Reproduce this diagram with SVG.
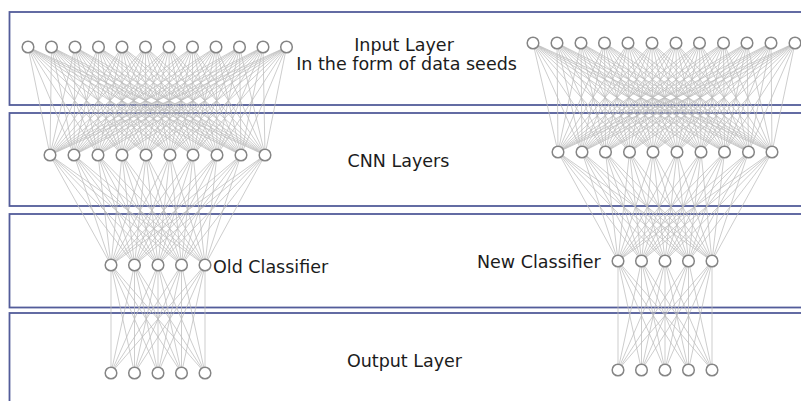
<svg xmlns="http://www.w3.org/2000/svg" width="801" height="401" viewBox="0 0 801 401">
<style>
.band{fill:#fff;stroke:#535c9a;stroke-width:1.8}
.edge{fill:none;stroke:#bcbcbc;stroke-width:0.75;stroke-linejoin:round}
.node{fill:#fff;stroke:#858585;stroke-width:1.5}
.lbl{font-family:"DejaVu Sans","Liberation Sans",sans-serif;font-size:17.5px;fill:#1c1c1c}
</style>
<rect width="801" height="401" fill="#fff"/>
<g id="bands">
<rect class="band" x="9.5" y="12" width="800" height="93"/>
<rect class="band" x="9.5" y="113" width="800" height="93"/>
<rect class="band" x="9.5" y="214" width="800" height="93.5"/>
<rect class="band" x="9.5" y="313" width="800" height="100"/>
</g>
<g id="connectors">
<path class="edge" d="M50 155L28 47L74 155M98 155L28 47L122 155M146 155L28 47L170 155M193 155L28 47L217 155M241 155L28 47L265 155
M50 155L51.5 47L74 155M98 155L51.5 47L122 155M146 155L51.5 47L170 155M193 155L51.5 47L217 155M241 155L51.5 47L265 155
M50 155L75 47L74 155M98 155L75 47L122 155M146 155L75 47L170 155M193 155L75 47L217 155M241 155L75 47L265 155
M50 155L98.5 47L74 155M98 155L98.5 47L122 155M146 155L98.5 47L170 155M193 155L98.5 47L217 155M241 155L98.5 47L265 155
M50 155L122 47L74 155M98 155L122 47L122 155M146 155L122 47L170 155M193 155L122 47L217 155M241 155L122 47L265 155
M50 155L145.5 47L74 155M98 155L145.5 47L122 155M146 155L145.5 47L170 155M193 155L145.5 47L217 155M241 155L145.5 47L265 155
M50 155L169 47L74 155M98 155L169 47L122 155M146 155L169 47L170 155M193 155L169 47L217 155M241 155L169 47L265 155
M50 155L192.5 47L74 155M98 155L192.5 47L122 155M146 155L192.5 47L170 155M193 155L192.5 47L217 155M241 155L192.5 47L265 155
M50 155L216 47L74 155M98 155L216 47L122 155M146 155L216 47L170 155M193 155L216 47L217 155M241 155L216 47L265 155
M50 155L239.5 47L74 155M98 155L239.5 47L122 155M146 155L239.5 47L170 155M193 155L239.5 47L217 155M241 155L239.5 47L265 155
M50 155L263 47L74 155M98 155L263 47L122 155M146 155L263 47L170 155M193 155L263 47L217 155M241 155L263 47L265 155
M50 155L286.5 47L74 155M98 155L286.5 47L122 155M146 155L286.5 47L170 155M193 155L286.5 47L217 155M241 155L286.5 47L265 155"/>
<path class="edge" d="M111 265L50 155L134.5 265M158 265L50 155L181.5 265M205 265L50 155
M111 265L74 155L134.5 265M158 265L74 155L181.5 265M205 265L74 155
M111 265L98 155L134.5 265M158 265L98 155L181.5 265M205 265L98 155
M111 265L122 155L134.5 265M158 265L122 155L181.5 265M205 265L122 155
M111 265L146 155L134.5 265M158 265L146 155L181.5 265M205 265L146 155
M111 265L170 155L134.5 265M158 265L170 155L181.5 265M205 265L170 155
M111 265L193 155L134.5 265M158 265L193 155L181.5 265M205 265L193 155
M111 265L217 155L134.5 265M158 265L217 155L181.5 265M205 265L217 155
M111 265L241 155L134.5 265M158 265L241 155L181.5 265M205 265L241 155
M111 265L265 155L134.5 265M158 265L265 155L181.5 265M205 265L265 155"/>
<path class="edge" d="M111 373L111 265L134.5 373M158 373L111 265L181.5 373M205 373L111 265
M111 373L134.5 265L134.5 373M158 373L134.5 265L181.5 373M205 373L134.5 265
M111 373L158 265L134.5 373M158 373L158 265L181.5 373M205 373L158 265
M111 373L181.5 265L134.5 373M158 373L181.5 265L181.5 373M205 373L181.5 265
M111 373L205 265L134.5 373M158 373L205 265L181.5 373M205 373L205 265"/>
<path class="edge" d="M558 152L533 43L582 152M605.5 152L533 43L629.5 152M653 152L533 43L677 152M701 152L533 43L724.5 152M748.5 152L533 43L772 152
M558 152L557 43L582 152M605.5 152L557 43L629.5 152M653 152L557 43L677 152M701 152L557 43L724.5 152M748.5 152L557 43L772 152
M558 152L581 43L582 152M605.5 152L581 43L629.5 152M653 152L581 43L677 152M701 152L581 43L724.5 152M748.5 152L581 43L772 152
M558 152L604.5 43L582 152M605.5 152L604.5 43L629.5 152M653 152L604.5 43L677 152M701 152L604.5 43L724.5 152M748.5 152L604.5 43L772 152
M558 152L628 43L582 152M605.5 152L628 43L629.5 152M653 152L628 43L677 152M701 152L628 43L724.5 152M748.5 152L628 43L772 152
M558 152L652 43L582 152M605.5 152L652 43L629.5 152M653 152L652 43L677 152M701 152L652 43L724.5 152M748.5 152L652 43L772 152
M558 152L676 43L582 152M605.5 152L676 43L629.5 152M653 152L676 43L677 152M701 152L676 43L724.5 152M748.5 152L676 43L772 152
M558 152L699.5 43L582 152M605.5 152L699.5 43L629.5 152M653 152L699.5 43L677 152M701 152L699.5 43L724.5 152M748.5 152L699.5 43L772 152
M558 152L723.5 43L582 152M605.5 152L723.5 43L629.5 152M653 152L723.5 43L677 152M701 152L723.5 43L724.5 152M748.5 152L723.5 43L772 152
M558 152L747 43L582 152M605.5 152L747 43L629.5 152M653 152L747 43L677 152M701 152L747 43L724.5 152M748.5 152L747 43L772 152
M558 152L771 43L582 152M605.5 152L771 43L629.5 152M653 152L771 43L677 152M701 152L771 43L724.5 152M748.5 152L771 43L772 152
M558 152L795 43L582 152M605.5 152L795 43L629.5 152M653 152L795 43L677 152M701 152L795 43L724.5 152M748.5 152L795 43L772 152"/>
<path class="edge" d="M618 261L558 152L641.5 261M665 261L558 152L688.5 261M712 261L558 152
M618 261L582 152L641.5 261M665 261L582 152L688.5 261M712 261L582 152
M618 261L605.5 152L641.5 261M665 261L605.5 152L688.5 261M712 261L605.5 152
M618 261L629.5 152L641.5 261M665 261L629.5 152L688.5 261M712 261L629.5 152
M618 261L653 152L641.5 261M665 261L653 152L688.5 261M712 261L653 152
M618 261L677 152L641.5 261M665 261L677 152L688.5 261M712 261L677 152
M618 261L701 152L641.5 261M665 261L701 152L688.5 261M712 261L701 152
M618 261L724.5 152L641.5 261M665 261L724.5 152L688.5 261M712 261L724.5 152
M618 261L748.5 152L641.5 261M665 261L748.5 152L688.5 261M712 261L748.5 152
M618 261L772 152L641.5 261M665 261L772 152L688.5 261M712 261L772 152"/>
<path class="edge" d="M618 370L618 261L641.5 370M665 370L618 261L688.5 370M712 370L618 261
M618 370L641.5 261L641.5 370M665 370L641.5 261L688.5 370M712 370L641.5 261
M618 370L665 261L641.5 370M665 370L665 261L688.5 370M712 370L665 261
M618 370L688.5 261L641.5 370M665 370L688.5 261L688.5 370M712 370L688.5 261
M618 370L712 261L641.5 370M665 370L712 261L688.5 370M712 370L712 261"/>
</g>
<g id="left-input">
<g id="li1"><circle class="node" cx="28" cy="47" r="5.8"/></g>
<g id="li2"><circle class="node" cx="51.5" cy="47" r="5.8"/></g>
<g id="li3"><circle class="node" cx="75" cy="47" r="5.8"/></g>
<g id="li4"><circle class="node" cx="98.5" cy="47" r="5.8"/></g>
<g id="li5"><circle class="node" cx="122" cy="47" r="5.8"/></g>
<g id="li6"><circle class="node" cx="145.5" cy="47" r="5.8"/></g>
<g id="li7"><circle class="node" cx="169" cy="47" r="5.8"/></g>
<g id="li8"><circle class="node" cx="192.5" cy="47" r="5.8"/></g>
<g id="li9"><circle class="node" cx="216" cy="47" r="5.8"/></g>
<g id="li10"><circle class="node" cx="239.5" cy="47" r="5.8"/></g>
<g id="li11"><circle class="node" cx="263" cy="47" r="5.8"/></g>
<g id="li12"><circle class="node" cx="286.5" cy="47" r="5.8"/></g>
</g>
<g id="left-cnn">
<g id="lc1"><circle class="node" cx="50" cy="155" r="5.8"/></g>
<g id="lc2"><circle class="node" cx="74" cy="155" r="5.8"/></g>
<g id="lc3"><circle class="node" cx="98" cy="155" r="5.8"/></g>
<g id="lc4"><circle class="node" cx="122" cy="155" r="5.8"/></g>
<g id="lc5"><circle class="node" cx="146" cy="155" r="5.8"/></g>
<g id="lc6"><circle class="node" cx="170" cy="155" r="5.8"/></g>
<g id="lc7"><circle class="node" cx="193" cy="155" r="5.8"/></g>
<g id="lc8"><circle class="node" cx="217" cy="155" r="5.8"/></g>
<g id="lc9"><circle class="node" cx="241" cy="155" r="5.8"/></g>
<g id="lc10"><circle class="node" cx="265" cy="155" r="5.8"/></g>
</g>
<g id="left-classifier">
<g id="lk1"><circle class="node" cx="111" cy="265" r="5.8"/></g>
<g id="lk2"><circle class="node" cx="134.5" cy="265" r="5.8"/></g>
<g id="lk3"><circle class="node" cx="158" cy="265" r="5.8"/></g>
<g id="lk4"><circle class="node" cx="181.5" cy="265" r="5.8"/></g>
<g id="lk5"><circle class="node" cx="205" cy="265" r="5.8"/></g>
</g>
<g id="left-output">
<g id="lo1"><circle class="node" cx="111" cy="373" r="5.8"/></g>
<g id="lo2"><circle class="node" cx="134.5" cy="373" r="5.8"/></g>
<g id="lo3"><circle class="node" cx="158" cy="373" r="5.8"/></g>
<g id="lo4"><circle class="node" cx="181.5" cy="373" r="5.8"/></g>
<g id="lo5"><circle class="node" cx="205" cy="373" r="5.8"/></g>
</g>
<g id="right-input">
<g id="ri1"><circle class="node" cx="533" cy="43" r="5.8"/></g>
<g id="ri2"><circle class="node" cx="557" cy="43" r="5.8"/></g>
<g id="ri3"><circle class="node" cx="581" cy="43" r="5.8"/></g>
<g id="ri4"><circle class="node" cx="604.5" cy="43" r="5.8"/></g>
<g id="ri5"><circle class="node" cx="628" cy="43" r="5.8"/></g>
<g id="ri6"><circle class="node" cx="652" cy="43" r="5.8"/></g>
<g id="ri7"><circle class="node" cx="676" cy="43" r="5.8"/></g>
<g id="ri8"><circle class="node" cx="699.5" cy="43" r="5.8"/></g>
<g id="ri9"><circle class="node" cx="723.5" cy="43" r="5.8"/></g>
<g id="ri10"><circle class="node" cx="747" cy="43" r="5.8"/></g>
<g id="ri11"><circle class="node" cx="771" cy="43" r="5.8"/></g>
<g id="ri12"><circle class="node" cx="795" cy="43" r="5.8"/></g>
</g>
<g id="right-cnn">
<g id="rc1"><circle class="node" cx="558" cy="152" r="5.8"/></g>
<g id="rc2"><circle class="node" cx="582" cy="152" r="5.8"/></g>
<g id="rc3"><circle class="node" cx="605.5" cy="152" r="5.8"/></g>
<g id="rc4"><circle class="node" cx="629.5" cy="152" r="5.8"/></g>
<g id="rc5"><circle class="node" cx="653" cy="152" r="5.8"/></g>
<g id="rc6"><circle class="node" cx="677" cy="152" r="5.8"/></g>
<g id="rc7"><circle class="node" cx="701" cy="152" r="5.8"/></g>
<g id="rc8"><circle class="node" cx="724.5" cy="152" r="5.8"/></g>
<g id="rc9"><circle class="node" cx="748.5" cy="152" r="5.8"/></g>
<g id="rc10"><circle class="node" cx="772" cy="152" r="5.8"/></g>
</g>
<g id="right-classifier">
<g id="rk1"><circle class="node" cx="618" cy="261" r="5.8"/></g>
<g id="rk2"><circle class="node" cx="641.5" cy="261" r="5.8"/></g>
<g id="rk3"><circle class="node" cx="665" cy="261" r="5.8"/></g>
<g id="rk4"><circle class="node" cx="688.5" cy="261" r="5.8"/></g>
<g id="rk5"><circle class="node" cx="712" cy="261" r="5.8"/></g>
</g>
<g id="right-output">
<g id="ro1"><circle class="node" cx="618" cy="370" r="5.8"/></g>
<g id="ro2"><circle class="node" cx="641.5" cy="370" r="5.8"/></g>
<g id="ro3"><circle class="node" cx="665" cy="370" r="5.8"/></g>
<g id="ro4"><circle class="node" cx="688.5" cy="370" r="5.8"/></g>
<g id="ro5"><circle class="node" cx="712" cy="370" r="5.8"/></g>
</g>
<g id="labels">
<text class="lbl" x="404" y="51" text-anchor="middle">Input Layer</text>
<text class="lbl" x="406.5" y="70" text-anchor="middle">In the form of data seeds</text>
<text class="lbl" x="398.5" y="167" text-anchor="middle">CNN Layers</text>
<text class="lbl" x="213" y="272.5">Old Classifier</text>
<text class="lbl" x="477" y="268">New Classifier</text>
<text class="lbl" x="404.5" y="367" text-anchor="middle">Output Layer</text>
</g>
</svg>
